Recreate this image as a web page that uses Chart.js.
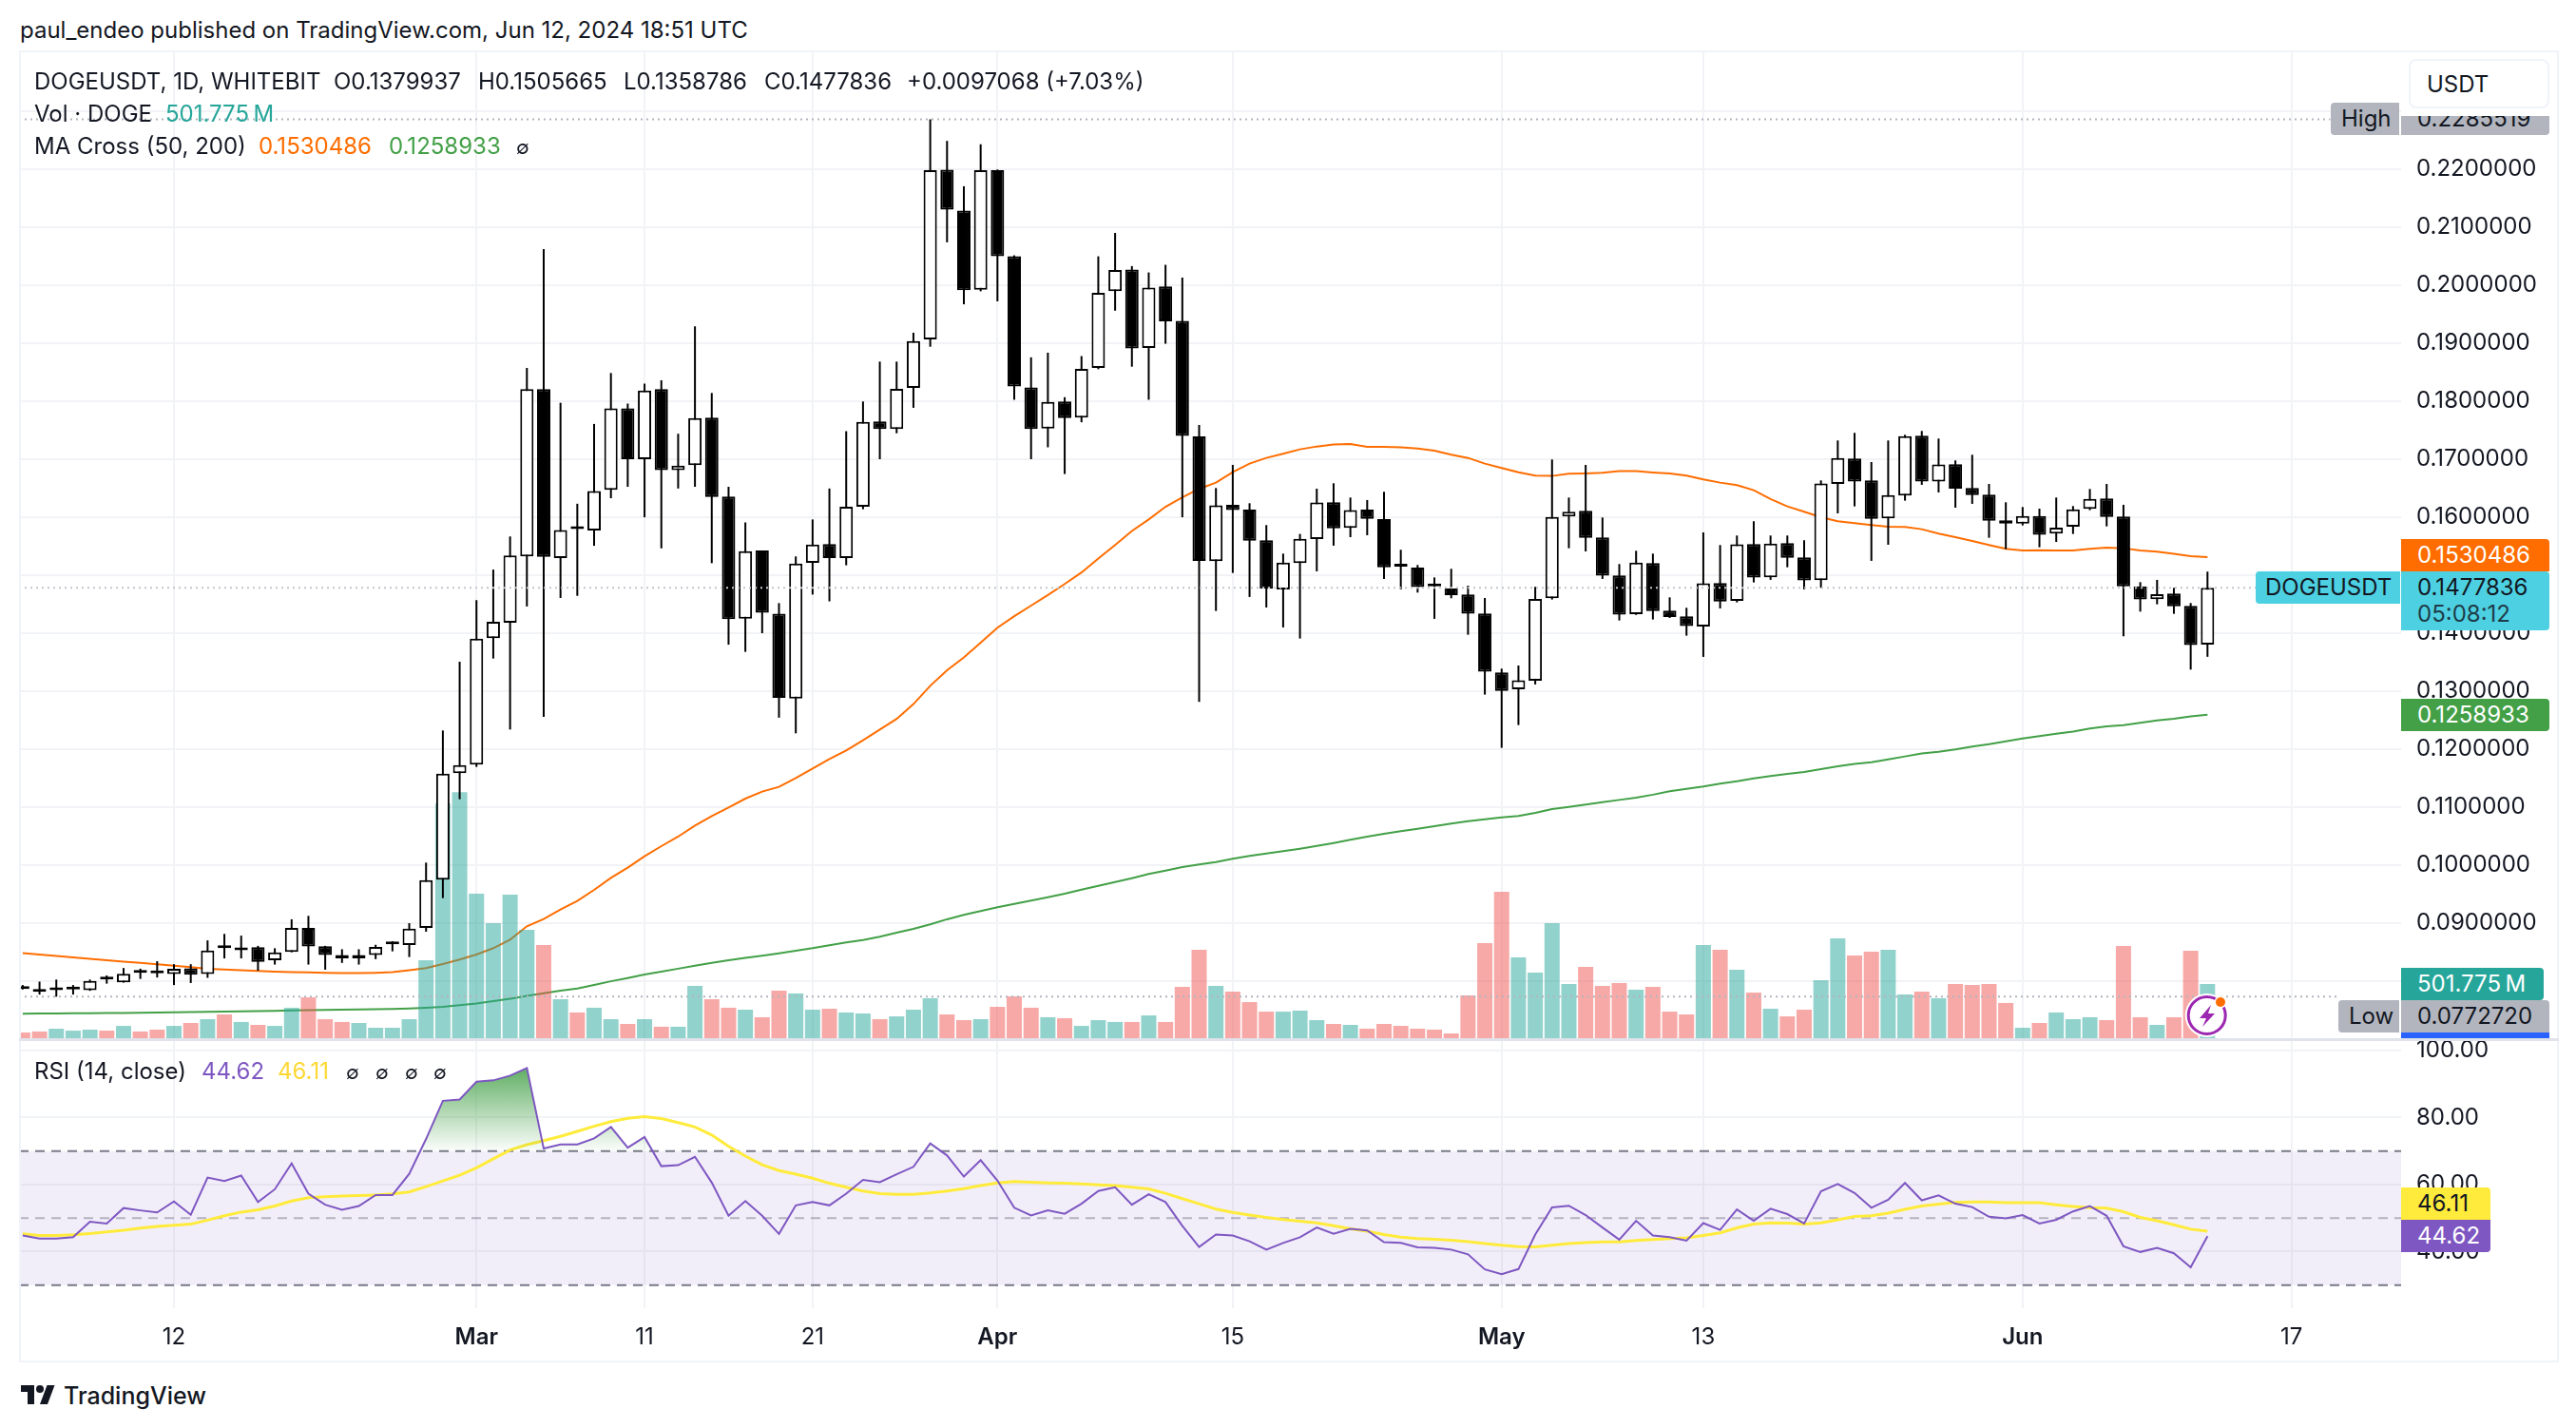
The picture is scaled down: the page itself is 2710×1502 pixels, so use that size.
<!DOCTYPE html>
<html>
<head>
<meta charset="utf-8">
<title>DOGEUSDT</title>
<script src="https://cdn.jsdelivr.net/npm/chart.js@4/dist/chart.umd.js"></script>
<style>
    html, body { margin: 0; padding: 0; background: #fff; }
    #page { position: relative; width: 2710px; height: 1502px; overflow: hidden; background: #fff; font-family: Inter, sans-serif; color: #131722; }
    canvas { position: absolute; left: 20px; display: block; }
    #priceCanvas { top: 53px; }
    #rsiCanvas { top: 1093px; }
    .t { position: absolute; font-size: 24px; line-height: 28px; white-space: nowrap; }
    .tag { position: absolute; font-size: 24px; white-space: nowrap; box-sizing: border-box; padding-left: 17px; }
    .frame { position: absolute; background: #f0f3fa; }
</style>
</head>
<body>
<div id="page">
    <canvas id="priceCanvas" width="2670" height="1040"></canvas>
    <canvas id="rsiCanvas" width="2670" height="339"></canvas>

    <!-- frame and pane separator -->
    <div class="frame" style="left:20px;top:53px;width:2672px;height:2px"></div>
    <div class="frame" style="left:20px;top:53px;width:2px;height:1380px"></div>
    <div class="frame" style="left:2690px;top:53px;width:2px;height:1380px"></div>
    <div class="frame" style="left:20px;top:1431px;width:2672px;height:2px"></div>
    <div class="frame" style="left:20px;top:1092px;width:2672px;height:3px;background:#e0e3eb"></div>

    <!-- header and legends -->
    <div class="t" style="left:21px;top:18px">paul_endeo published on TradingView.com, Jun 12, 2024 18:51 UTC</div>
    <div class="t" style="left:36px;top:72px">DOGEUSDT, 1D, WHITEBIT</div>
    <div class="t" style="left:351px;top:72px">O0.1379937</div>
    <div class="t" style="left:503px;top:72px">H0.1505665</div>
    <div class="t" style="left:656px;top:72px">L0.1358786</div>
    <div class="t" style="left:804px;top:72px">C0.1477836</div>
    <div class="t" style="left:954px;top:72px">+0.0097068 (+7.03%)</div>
    <div class="t" style="left:36px;top:106px">Vol · DOGE</div>
    <div class="t" style="left:174px;top:106px;color:#26a69a">501.775&#8201;M</div>
    <div class="t" style="left:36px;top:140px">MA Cross (50, 200)</div>
    <div class="t" style="left:272px;top:140px;color:#ff6d00">0.1530486</div>
    <div class="t" style="left:409px;top:140px;color:#43a047">0.1258933</div>
    <div class="t" style="left:543px;top:141px;font-size:20px">∅</div>
    <div class="t" style="left:36px;top:1113px">RSI (14, close)</div>
    <div class="t" style="left:212px;top:1113px;color:#7e57c2">44.62</div>
    <div class="t" style="left:292px;top:1113px;color:#fdd835">46.11</div>
    <div class="t" style="left:364px;top:1114px;font-size:20px">∅</div>
    <div class="t" style="left:395px;top:1114px;font-size:20px">∅</div>
    <div class="t" style="left:426px;top:1114px;font-size:20px">∅</div>
    <div class="t" style="left:456px;top:1114px;font-size:20px">∅</div>

    <!-- axis tags -->
    <div class="tag" style="left:2452px;top:108px;width:72px;height:34px;line-height:34px;background:#b2b5be;border-radius:4px 0 0 4px;padding-left:11px">High</div>
    <div class="tag" style="left:2526px;top:108px;width:156px;height:34px;line-height:34px;background:#b2b5be;border-radius:0 4px 4px 0">0.2285519</div>
    <div style="position:absolute;left:2526px;top:55px;width:164px;height:67px;background:#fff"></div>
    <div class="tag" style="left:2534px;top:62px;width:148px;height:52px;line-height:50px;background:#fff;border:2px solid #f0f3fa;border-radius:8px;padding-left:17px">USDT</div>
    <div class="tag" style="left:2526px;top:567px;width:156px;height:34px;line-height:34px;background:#ff6d00;color:#fff;border-radius:0 4px 0 0">0.1530486</div>
    <div class="tag" style="left:2373px;top:601px;width:152px;height:34px;line-height:34px;background:#4dd0e1;border-radius:4px 0 0 4px;padding-left:10px">DOGEUSDT</div>
    <div class="tag" style="left:2526px;top:601px;width:156px;height:62px;background:#4dd0e1;border-radius:0 4px 4px 0;line-height:28px;padding-top:3px">0.1477836<br><span style="opacity:.8">05:08:12</span></div>
    <div class="tag" style="left:2526px;top:735px;width:156px;height:34px;line-height:34px;background:#43a047;color:#fff;border-radius:0 4px 4px 0">0.1258933</div>
    <div class="tag" style="left:2526px;top:1018px;width:150px;height:34px;line-height:34px;background:#26a69a;color:#fff;border-radius:0 4px 4px 0">501.775&#8201;M</div>
    <div class="tag" style="left:2460px;top:1052px;width:64px;height:34px;line-height:34px;background:#b2b5be;border-radius:4px 0 0 4px;padding-left:11px">Low</div>
    <div class="tag" style="left:2526px;top:1052px;width:156px;height:34px;line-height:34px;background:#b2b5be;border-radius:0 4px 0 0">0.0772720</div>
    <div class="tag" style="left:2526px;top:1086px;width:156px;height:6px;background:#2962ff"></div>
    <div class="tag" style="left:2526px;top:1249px;width:94px;height:34px;line-height:34px;background:#ffeb3b;border-radius:0 4px 0 0">46.11</div>
    <div class="tag" style="left:2526px;top:1283px;width:94px;height:34px;line-height:34px;background:#7e57c2;color:#fff;border-radius:0 0 4px 0">44.62</div>

    <!-- news marker on the last bar -->
    <svg style="position:absolute;left:2292px;top:1040px" width="60" height="56" viewBox="0 0 60 56">
        <circle cx="29.7" cy="28" r="23" fill="#fff"/>
        <circle cx="29.7" cy="28" r="19.5" fill="#fff" stroke="#9c27b0" stroke-width="3"/>
        <path d="M34 17 L22 31 L29 31 L25 40 L38 26 L31 26 Z" fill="#9c27b0"/>
        <circle cx="44" cy="14" r="6.5" fill="#fff"/>
        <circle cx="44" cy="14" r="5" fill="#ff6d00"/>
    </svg>

    <!-- logo -->
    <svg style="position:absolute;left:20px;top:1453px" width="40" height="28" viewBox="0 0 36 28">
        <path d="M14 24H7V11H0V4h14v20zM28 24h-8l7.5-20h8L28 24z" fill="#131722"/>
        <circle cx="20" cy="8" r="4" fill="#131722"/>
    </svg>
    <div class="t" style="left:67px;top:1453px;font-size:25px;line-height:30px;font-weight:500">TradingView</div>
</div>

<script>
/* ============================================================================ */
/* == Chart data (one entry per daily bar, Feb 3 on)   == */
/* ============================================================================ */
const opens = [
    0.07905, 0.07858, 0.07840, 0.07852, 0.07840, 0.08022, 0.07975, 0.08140, 0.08134, 0.08116,
    0.08216, 0.08116, 0.08563, 0.08527, 0.08580, 0.08357, 0.08498, 0.08915, 0.08598, 0.08445,
    0.08445, 0.08445, 0.08629, 0.08618, 0.08913, 0.09744, 0.11580, 0.11727, 0.13907, 0.14177,
    0.15319, 0.18203, 0.15290, 0.15788, 0.15766, 0.16468, 0.17873, 0.16995, 0.18203, 0.16805,
    0.16893, 0.17712, 0.16351, 0.14244, 0.15422, 0.14331, 0.12868, 0.15210, 0.15532, 0.15290,
    0.16176, 0.17646, 0.17515, 0.18225, 0.19059, 0.21986, 0.21283, 0.19915, 0.21979, 0.20493,
    0.18232, 0.17522, 0.17990, 0.17712, 0.18569, 0.19893, 0.20266, 0.18912, 0.19974, 0.19381,
    0.17389, 0.15236, 0.16209, 0.16127, 0.15597, 0.14750, 0.15203, 0.15619, 0.16252, 0.15810,
    0.16127, 0.15963, 0.15143, 0.15127, 0.14804, 0.14766, 0.14662, 0.14335, 0.13318, 0.13029,
    0.13176, 0.14597, 0.16006, 0.16105, 0.15646, 0.14990, 0.14324, 0.15203, 0.14384, 0.14285,
    0.14110, 0.14859, 0.14553, 0.15531, 0.14957, 0.15547, 0.15302, 0.14908, 0.16569, 0.17006,
    0.16629, 0.15974, 0.16367, 0.17400, 0.16608, 0.16908, 0.16498, 0.16383, 0.15941, 0.15886,
    0.16017, 0.15711, 0.15832, 0.16138, 0.16318, 0.16006, 0.14804, 0.14580, 0.14679, 0.14466,
    0.1379937
];
const highs = [
    0.07928, 0.07987, 0.08022, 0.07928, 0.08022, 0.08093, 0.08222, 0.08210, 0.08340, 0.08287,
    0.08287, 0.08698, 0.08810, 0.08780, 0.08604, 0.08563, 0.09062, 0.09121, 0.08604, 0.08545,
    0.08545, 0.08622, 0.08684, 0.08995, 0.10039, 0.12317, 0.13503, 0.14565, 0.15092, 0.15663,
    0.18569, 0.20618, 0.17968, 0.16227, 0.17603, 0.18481, 0.17954, 0.18298, 0.18356, 0.17434,
    0.19286, 0.18137, 0.16519, 0.15905, 0.15422, 0.14514, 0.15319, 0.15956, 0.16490, 0.17478,
    0.17990, 0.18678, 0.18678, 0.19176, 0.2285519, 0.22484, 0.21701, 0.22425, 0.21990, 0.20510,
    0.18751, 0.18832, 0.18064, 0.18773, 0.20493, 0.20896, 0.20325, 0.20215, 0.20347, 0.20127,
    0.17586, 0.16498, 0.16897, 0.16236, 0.15859, 0.15367, 0.15706, 0.16487, 0.16580, 0.16334,
    0.16291, 0.16433, 0.15433, 0.15171, 0.14957, 0.15105, 0.14815, 0.14602, 0.13384, 0.13438,
    0.14794, 0.16990, 0.16334, 0.16897, 0.15990, 0.15187, 0.15416, 0.15367, 0.14613, 0.14433,
    0.15733, 0.15515, 0.15679, 0.15925, 0.15679, 0.15679, 0.15597, 0.16629, 0.17318, 0.17449,
    0.16946, 0.17318, 0.17416, 0.17482, 0.17351, 0.16974, 0.17072, 0.16569, 0.16252, 0.16170,
    0.16143, 0.16334, 0.16187, 0.16482, 0.16569, 0.16209, 0.14875, 0.14914, 0.14777, 0.14515,
    0.1505665
];
const lows = [
    0.07852, 0.07764, 0.077272, 0.07764, 0.07828, 0.07952, 0.07969, 0.08034, 0.08058, 0.07928,
    0.07963, 0.08052, 0.08387, 0.08387, 0.08175, 0.08281, 0.08492, 0.08281, 0.08193, 0.08310,
    0.08281, 0.08375, 0.08509, 0.08411, 0.08848, 0.09427, 0.11132, 0.11689, 0.13558, 0.12334,
    0.14456, 0.12553, 0.14602, 0.14639, 0.15502, 0.16322, 0.16519, 0.15993, 0.15458, 0.16490,
    0.16519, 0.15202, 0.13797, 0.13673, 0.13995, 0.12538, 0.12268, 0.14661, 0.14544, 0.15166,
    0.16132, 0.16995, 0.17442, 0.17881, 0.18934, 0.20735, 0.19666, 0.19890, 0.19717, 0.18020,
    0.16995, 0.17200, 0.16739, 0.17632, 0.18547, 0.19556, 0.18590, 0.18020, 0.18986, 0.15993,
    0.12810, 0.14378, 0.15034, 0.14619, 0.14438, 0.14094, 0.13903, 0.15061, 0.15504, 0.15651,
    0.15684, 0.14930, 0.14750, 0.14695, 0.14242, 0.14597, 0.13968, 0.12936, 0.12018, 0.12411,
    0.13111, 0.14575, 0.15460, 0.15405, 0.14930, 0.14214, 0.14310, 0.14231, 0.14258, 0.13952,
    0.13586, 0.14422, 0.14526, 0.14870, 0.14914, 0.15132, 0.14750, 0.14777, 0.16061, 0.16181,
    0.15242, 0.15520, 0.16280, 0.16553, 0.16422, 0.16159, 0.16225, 0.15640, 0.15444, 0.15853,
    0.15476, 0.15569, 0.15706, 0.16116, 0.15837, 0.13941, 0.14367, 0.14493, 0.14329, 0.13367,
    0.1358786
];
const closes = [
    0.07858, 0.07811, 0.07838, 0.07850, 0.07999, 0.08024, 0.08122, 0.08142, 0.08132, 0.08210,
    0.08105, 0.08522, 0.08565, 0.08575, 0.08328, 0.08492, 0.08915, 0.08592, 0.08445, 0.08387,
    0.08387, 0.08586, 0.08631, 0.08902, 0.09738, 0.11574, 0.11722, 0.13902, 0.14192, 0.15334,
    0.18203, 0.15312, 0.15773, 0.15790, 0.16446, 0.17873, 0.16995, 0.18181, 0.16805, 0.16885,
    0.17705, 0.16344, 0.14236, 0.15407, 0.14346, 0.12882, 0.15195, 0.15524, 0.15290, 0.16176,
    0.17639, 0.17515, 0.18210, 0.19030, 0.21979, 0.21298, 0.19908, 0.21979, 0.20493, 0.18247,
    0.17515, 0.17983, 0.17705, 0.18554, 0.19864, 0.20259, 0.18905, 0.19952, 0.19373, 0.17398,
    0.15242, 0.16198, 0.16116, 0.15591, 0.14761, 0.15214, 0.15624, 0.16247, 0.15804, 0.16116,
    0.15968, 0.15132, 0.15145, 0.14788, 0.14802, 0.14651, 0.14329, 0.13329, 0.13001, 0.13182,
    0.14586, 0.16001, 0.16088, 0.15640, 0.14985, 0.14313, 0.15214, 0.14378, 0.14274, 0.14116,
    0.14854, 0.14542, 0.15526, 0.14952, 0.15542, 0.15296, 0.14903, 0.16575, 0.17017, 0.16608,
    0.15968, 0.16378, 0.17394, 0.16608, 0.16903, 0.16487, 0.16378, 0.15935, 0.15886, 0.16017,
    0.15690, 0.15815, 0.16132, 0.16312, 0.16001, 0.14804, 0.14575, 0.14668, 0.14460, 0.13788,
    0.1477836
];
// Volume in millions of DOGE
const volumes = [
    53, 62, 88, 70, 79, 70, 114, 62, 79, 114,
    141, 176, 220, 150, 123, 114, 282, 378, 176, 150,
    141, 97, 97, 176, 722, 2174, 2277, 1338, 1065, 1329,
    1003, 862, 361, 238, 282, 176, 132, 176, 106, 106,
    484, 361, 282, 264, 194, 440, 414, 264, 273, 238,
    229, 176, 202, 264, 370, 220, 167, 176, 290, 387,
    282, 194, 185, 114, 167, 150, 150, 211, 150, 475,
    818, 484, 431, 334, 246, 246, 255, 167, 132, 123,
    88, 132, 114, 88, 79, 44, 396, 880, 1355, 748,
    607, 1065, 502, 660, 484, 510, 449, 475, 246, 220,
    862, 818, 634, 422, 273, 202, 264, 537, 924, 766,
    801, 818, 405, 431, 370, 502, 493, 502, 326, 97,
    141, 238, 176, 194, 167, 854, 194, 123, 194, 810,
    501.775
];
// 1 = green volume bar, 0 = red volume bar
const volumeUp = [
    0, 0, 1, 1, 1, 0, 1, 0, 0, 1,
    0, 1, 0, 1, 0, 1, 1, 0, 0, 0,
    1, 1, 1, 1, 1, 1, 1, 1, 1, 1,
    1, 0, 1, 0, 1, 1, 0, 1, 0, 1,
    1, 0, 0, 1, 0, 0, 1, 1, 0, 1,
    1, 0, 1, 1, 1, 0, 0, 1, 0, 0,
    0, 1, 0, 1, 1, 1, 0, 1, 0, 0,
    0, 1, 0, 0, 0, 1, 1, 1, 0, 1,
    0, 0, 0, 0, 0, 0, 0, 0, 0, 1,
    1, 1, 1, 0, 0, 0, 1, 0, 0, 0,
    1, 0, 1, 0, 1, 0, 0, 1, 1, 0,
    0, 1, 1, 0, 1, 0, 0, 0, 0, 1,
    0, 1, 1, 1, 0, 0, 0, 1, 0, 0,
    1
];
const ma50 = [
    0.08480, 0.08455, 0.08430, 0.08405, 0.08380, 0.08355, 0.08330, 0.08310, 0.08285, 0.08263,
    0.08235, 0.08208, 0.08196, 0.08183, 0.08170, 0.08160, 0.08152, 0.08145, 0.08137, 0.08135,
    0.08135, 0.08140, 0.08150, 0.08185, 0.08219, 0.08290, 0.08367, 0.08454, 0.08564, 0.08711,
    0.08941, 0.09066, 0.09230, 0.09378, 0.09569, 0.09776, 0.09951, 0.10148, 0.10323, 0.10487,
    0.10678, 0.10842, 0.10990, 0.11142, 0.11263, 0.11345, 0.11498, 0.11662, 0.11825, 0.11973,
    0.12150, 0.12333, 0.12516, 0.12772, 0.13087, 0.13357, 0.13577, 0.13833, 0.14089, 0.14287,
    0.14470, 0.14653, 0.14843, 0.15041, 0.15282, 0.15516, 0.15758, 0.15956, 0.16175, 0.16336,
    0.16483, 0.16591, 0.16771, 0.16919, 0.17017, 0.17088, 0.17165, 0.17214, 0.17247, 0.17258,
    0.17209, 0.17209, 0.17198, 0.17181, 0.17143, 0.17072, 0.17017, 0.16919, 0.16843, 0.16771,
    0.16711, 0.16706, 0.16744, 0.16750, 0.16760, 0.16788, 0.16788, 0.16766, 0.16750, 0.16711,
    0.16646, 0.16591, 0.16547, 0.16460, 0.16307, 0.16181, 0.16088, 0.15996, 0.15924, 0.15892,
    0.15859, 0.15832, 0.15826, 0.15788, 0.15711, 0.15651, 0.15586, 0.15515, 0.15449, 0.15422,
    0.15427, 0.15422, 0.15422, 0.15449, 0.15471, 0.15460, 0.15422, 0.15400, 0.15362, 0.15323,
    0.1530486
];
const ma200 = [
    0.07435, 0.07437, 0.07438, 0.07440, 0.07442, 0.07445, 0.07447, 0.07450, 0.07453, 0.07458,
    0.07462, 0.07466, 0.07470, 0.07474, 0.07478, 0.07484, 0.07490, 0.07495, 0.07500, 0.07504,
    0.07508, 0.07512, 0.07517, 0.07523, 0.07535, 0.07552, 0.07580, 0.07611, 0.07650, 0.07693,
    0.07740, 0.07787, 0.07830, 0.07869, 0.07930, 0.07993, 0.08050, 0.08110, 0.08160, 0.08210,
    0.08260, 0.08310, 0.08355, 0.08398, 0.08435, 0.08475, 0.08520, 0.08563, 0.08615, 0.08663,
    0.08705, 0.08760, 0.08830, 0.08898, 0.08974, 0.09062, 0.09139, 0.09203, 0.09268, 0.09328,
    0.09383, 0.09443, 0.09503, 0.09574, 0.09640, 0.09705, 0.09771, 0.09842, 0.09902, 0.09962,
    0.10006, 0.10050, 0.10104, 0.10153, 0.10197, 0.10235, 0.10279, 0.10328, 0.10377, 0.10432,
    0.10487, 0.10536, 0.10580, 0.10623, 0.10667, 0.10711, 0.10754, 0.10787, 0.10820, 0.10842,
    0.10897, 0.10962, 0.11000, 0.11040, 0.11080, 0.11120, 0.11160, 0.11210, 0.11270, 0.11310,
    0.11350, 0.11400, 0.11440, 0.11490, 0.11530, 0.11570, 0.11600, 0.11650, 0.11700, 0.11740,
    0.11770, 0.11820, 0.11870, 0.11920, 0.11950, 0.11990, 0.12040, 0.12080, 0.12130, 0.12180,
    0.12220, 0.12260, 0.12300, 0.12350, 0.12390, 0.12410, 0.12450, 0.12490, 0.12520, 0.12560,
    0.1258933
];
const rsi = [
    44.8, 43.9, 43.9, 44.3, 48.9, 48.4, 53.0, 52.3, 51.7, 55.0,
    51.0, 62.1, 61.1, 62.7, 54.8, 58.6, 66.3, 57.3, 54.0, 52.5,
    53.6, 56.9, 56.9, 63.2, 73.6, 85.0, 85.4, 90.7, 91.1, 92.5,
    94.8, 70.75, 72.0, 72.0, 73.8, 77.2, 71.0, 74.2, 65.5, 65.8,
    68.3, 60.6, 50.7, 55.1, 50.7, 45.3, 53.8, 54.8, 53.8, 57.3,
    61.4, 60.7, 63.1, 65.3, 72.3, 68.7, 62.4, 67.3, 61.2, 53.1,
    50.8, 52.3, 51.3, 54.3, 58.1, 59.2, 54.0, 57.1, 54.8, 47.7,
    41.4, 45.1, 44.8, 43.1, 40.6, 42.6, 44.3, 47.2, 45.3, 46.8,
    46.3, 42.8, 42.6, 41.3, 41.1, 40.6, 39.2, 34.7, 33.3, 34.8,
    45.1, 53.2, 53.7, 50.9, 47.2, 43.6, 49.2, 44.8, 44.3, 43.3,
    48.5, 46.5, 52.6, 49.2, 52.8, 51.2, 48.4, 58.0, 60.2, 57.5,
    53.1, 55.5, 60.5, 55.3, 56.8, 54.3, 53.3, 50.4, 49.9, 50.9,
    48.4, 49.5, 52.0, 53.6, 50.7, 41.6, 39.9, 41.1, 39.5, 35.3,
    44.62
];
const rsiMa = [
    45.3, 44.8, 44.8, 45.0, 45.4, 45.9, 46.4, 47.0, 47.5, 47.9,
    48.2, 49.4, 50.7, 51.8, 52.5, 53.6, 55.1, 56.1, 56.4, 56.6,
    56.7, 56.9, 57.2, 57.8, 59.4, 61.1, 62.8, 65.0, 67.7, 70.3,
    71.9, 73.1, 74.4, 75.9, 77.4, 78.8, 79.8, 80.3, 79.7, 78.5,
    77.2, 74.8, 71.4, 68.5, 65.9, 64.2, 63.1, 61.9, 60.4, 59.2,
    58.1, 57.3, 57.1, 57.1, 57.5, 58.1, 58.8, 59.7, 60.5, 60.9,
    60.7, 60.5, 60.4, 60.2, 59.9, 59.7, 59.2, 58.7, 57.4, 55.8,
    54.3, 52.7, 51.7, 50.9, 50.2, 49.6, 49.1, 48.6, 47.7, 46.8,
    46.1, 45.1, 44.3, 43.9, 43.7, 43.4, 43.0, 42.4, 41.9, 41.5,
    41.4, 41.9, 42.4, 42.7, 42.9, 42.9, 43.3, 43.6, 43.9, 44.1,
    44.8, 45.6, 47.1, 48.2, 48.6, 48.5, 48.2, 48.6, 49.5, 50.5,
    50.7, 51.5, 52.6, 53.6, 54.2, 54.7, 54.8, 54.8, 54.6, 54.6,
    54.6, 54.0, 53.5, 53.1, 53.0, 51.9, 50.2, 49.2, 48.0, 46.7,
    46.11
];

// Bar index of each labelled date, bar 0 being Feb 3
const dateTickBars = [9, 27, 37, 47, 58, 72, 88, 100, 119, 135];
const dateTickLabels = ['12', 'Mar', '11', '21', 'Apr', '15', 'May', '13', 'Jun', '17'];
const monthLabels = ['Mar', 'Apr', 'May', 'Jun'];
const priceTicks = [0.08, 0.09, 0.10, 0.11, 0.12, 0.13, 0.14, 0.15, 0.16, 0.17, 0.18, 0.19, 0.20, 0.21, 0.22, 0.23];
const rsiTicks = [40, 60, 80, 100];
const rsiLevels = [70, 50, 30];

const highPrice = 0.2285519;
const lowPrice = 0.077272;
const lastClose = 0.1477836;

/* ============================================================================ */
/* == Shared chart setup                                                     == */
/* ============================================================================ */
const GRID = '#f2f3f6';
const AXIS_WIDTH = 164;

// Visible bar range of both panes
const xMin = -0.22;
const xMax = 141.52;

Chart.defaults.font.family = 'Inter';
Chart.defaults.font.size = 24;
Chart.defaults.color = '#131722';

const series = (values) => values.map((y, x) => ({ x, y }));
const hline = (value, toBar) => [{ x: xMin, y: value }, { x: toBar, y: value }];

const lineSet = (data, color, width, order, extra) => Object.assign({
    type: 'line',
    data: data,
    borderColor: color,
    borderWidth: width,
    pointRadius: 0,
    tension: 0,
    fill: false,
    order: order
}, extra || {});

// Panes have to line up to the pixel, so drop the margins kept for tick labels
const dropMargins = (axis) => {
    axis.paddingTop = 0;
    axis.paddingBottom = 0;
    axis.paddingLeft = 0;
    axis.paddingRight = 0;
};

const xScale = (showLabels, height) => ({
    type: 'linear',
    min: xMin,
    max: xMax,
    offset: false,
    border: { display: false },
    grid: { color: GRID, lineWidth: 2, drawTicks: false, offset: false },
    ticks: {
        display: showLabels,
        autoSkip: false,
        maxRotation: 0,
        padding: 17,
        callback: (value) => dateTickLabels[dateTickBars.indexOf(value)],
        font: (ctx) => ({
            size: 24,
            weight: ctx.tick && monthLabels.includes(ctx.tick.label) ? '600' : '400'
        })
    },
    afterBuildTicks: (axis) => { axis.ticks = dateTickBars.map(value => ({ value })); },
    afterFit: (axis) => { axis.height = height; dropMargins(axis); }
});

const yScale = (min, max, ticks, digits) => ({
    position: 'right',
    min: min,
    max: max,
    border: { display: false },
    grid: { color: GRID, lineWidth: 2, drawTicks: false },
    ticks: { padding: 16, crossAlign: 'near', callback: (value) => value.toFixed(digits) },
    afterBuildTicks: (axis) => { axis.ticks = ticks.map(value => ({ value })); },
    afterFit: (axis) => { axis.width = AXIS_WIDTH; dropMargins(axis); }
});

/* ============================================================================ */
/* == Price pane: candles, moving averages, volume                           == */
/* ============================================================================ */
new Chart(document.getElementById('priceCanvas'), {
    type: 'bar',
    data: {
        datasets: [
            lineSet(hline(highPrice, 137.3), '#b2b5be', 2, 0, { borderDash: [2, 4] }),
            lineSet(hline(lowPrice, 137.8), '#b2b5be', 2, 0, { borderDash: [2, 4] }),
            lineSet(hline(lastClose, 132.9), '#c4c6cd', 2, 0, { borderDash: [2, 4] }),
            {
                // candle bodies
                data: opens.map((open, x) => ({ x, y: [open, closes[x]] })),
                grouped: false,
                barThickness: 14,
                minBarLength: 3,
                inflateAmount: 0,
                borderWidth: 2,
                borderColor: '#000',
                borderSkipped: false,
                backgroundColor: opens.map((open, i) => closes[i] >= open ? '#fff' : '#000'),
                order: 1
            },
            {
                // candle wicks
                data: lows.map((low, x) => ({ x, y: [low, highs[x]] })),
                grouped: false,
                barThickness: 2,
                inflateAmount: 0,
                backgroundColor: '#000',
                order: 2
            },
            {
                yAxisID: 'volume',
                data: series(volumes),
                grouped: false,
                barThickness: 16,
                inflateAmount: 0,
                backgroundColor: volumeUp.map(up => up ? 'rgba(38,166,154,0.5)' : 'rgba(239,83,80,0.5)'),
                order: 3
            },
            lineSet(series(ma50), '#ff6d00', 2, 4),
            lineSet(series(ma200), '#43a047', 2, 4)
        ]
    },
    options: {
        responsive: false,
        animation: false,
        devicePixelRatio: 1,
        layout: { padding: 0 },
        plugins: { legend: { display: false }, tooltip: { enabled: false } },
        scales: {
            x: xScale(false, 0),
            y: yScale(0.06995, 0.24044, priceTicks, 7),
            volume: { display: false, min: -8.8, max: 9143 }
        }
    }
});

/* ============================================================================ */
/* == RSI pane                                                               == */
/* ============================================================================ */
// Gradient needs the laid out scale, so the overbought fill is set here
const overboughtFill = {
    id: 'overboughtFill',
    afterLayout(chart) {
        const y = chart.scales.y;
        const gradient = chart.ctx.createLinearGradient(0, y.getPixelForValue(95), 0, y.getPixelForValue(70));
        gradient.addColorStop(0, 'rgba(67,160,71,0.85)');
        gradient.addColorStop(1, 'rgba(67,160,71,0.02)');
        chart.data.datasets[0].fill = { target: { value: 70 }, above: gradient, below: 'rgba(0,0,0,0)' };
    }
};

new Chart(document.getElementById('rsiCanvas'), {
    type: 'line',
    plugins: [overboughtFill],
    data: {
        datasets: [
            lineSet(series(rsi), '#7e57c2', 2, 1),
            lineSet(series(rsiMa), '#ffeb3b', 3, 2),
            lineSet(hline(rsiLevels[0], xMax), '#787b86', 2, 3, {
                borderDash: [10, 7],
                backgroundColor: 'rgba(126,87,194,0.1)',
                fill: { target: { value: rsiLevels[2] } }
            }),
            lineSet(hline(rsiLevels[1], xMax), 'rgba(120,123,134,0.5)', 2, 3, { borderDash: [10, 7] }),
            lineSet(hline(rsiLevels[2], xMax), '#787b86', 2, 3, { borderDash: [10, 7] })
        ]
    },
    options: {
        responsive: false,
        animation: false,
        devicePixelRatio: 1,
        layout: { padding: 0 },
        plugins: { legend: { display: false }, tooltip: { enabled: false } },
        scales: {
            x: xScale(true, 56.5),
            y: yScale(23.26, 103.4, rsiTicks, 2)
        }
    }
});
</script>
</body>
</html>
